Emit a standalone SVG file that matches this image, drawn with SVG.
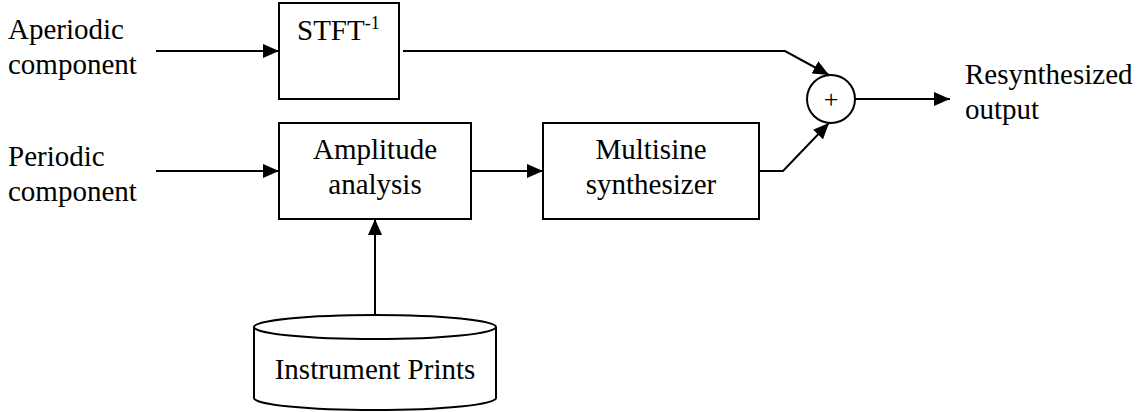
<svg xmlns="http://www.w3.org/2000/svg" width="1144" height="412" viewBox="0 0 1144 412">
  <style>
    .box { fill: #ffffff; stroke: #000000; stroke-width: 2; }
    .wire { fill: none; stroke: #000000; stroke-width: 2; }
    .mid { text-anchor: middle; }
  </style>
  <defs>
    <marker id="arrow" viewBox="0 0 16 14" refX="16" refY="7" markerWidth="16" markerHeight="14" markerUnits="userSpaceOnUse" orient="auto">
      <path d="M0,0 L16,7 L0,14 Z" fill="#000000"/>
    </marker>
  </defs>
  <rect width="1144" height="412" fill="#ffffff"/>

  <g font-family="Liberation Serif, serif" font-size="29" fill="#000000">
    <!-- input labels -->
    <g id="aperiodic-input">
      <text x="8" y="39">Aperiodic</text>
      <text x="8" y="74">component</text>
    </g>
    <g id="periodic-input">
      <text x="8" y="166">Periodic</text>
      <text x="8" y="201">component</text>
    </g>

    <!-- inverse STFT block -->
    <g id="istft">
      <rect class="box" x="279" y="3" width="120" height="96"/>
      <text x="297" y="40">STFT<tspan font-size="18" dy="-11">-1</tspan></text>
    </g>

    <!-- amplitude analysis block -->
    <g id="amplitude-analysis">
      <rect class="box" x="279" y="123" width="192" height="96"/>
      <text class="mid" x="375" y="159">Amplitude</text>
      <text class="mid" x="375" y="194">analysis</text>
    </g>

    <!-- multisine synthesizer block -->
    <g id="multisine-synthesizer">
      <rect class="box" x="543" y="123" width="216" height="96"/>
      <text class="mid" x="651" y="159">Multisine</text>
      <text class="mid" x="651" y="194">synthesizer</text>
    </g>

    <!-- summing junction -->
    <g id="sum">
      <circle cx="831" cy="99" r="24" fill="#ffffff" stroke="#000000" stroke-width="2"/>
      <text class="mid" x="831" y="108" font-size="26">+</text>
    </g>

    <!-- output label -->
    <g id="output">
      <text x="965" y="84">Resynthesized</text>
      <text x="965" y="119">output</text>
    </g>

    <!-- instrument prints database -->
    <g id="instrument-prints">
      <path class="box" d="M254,327 L254,398 A121,12 0 0 0 496,398 L496,327"/>
      <ellipse cx="375" cy="327" rx="121" ry="12" fill="#ffffff" stroke="#000000" stroke-width="2"/>
      <text class="mid" x="375" y="379">Instrument Prints</text>
    </g>
  </g>

  <!-- connectors -->
  <g id="connectors">
    <line class="wire" x1="156" y1="51" x2="279" y2="51" marker-end="url(#arrow)"/>
    <line class="wire" x1="156" y1="171" x2="279" y2="171" marker-end="url(#arrow)"/>
    <line class="wire" x1="471" y1="171" x2="543" y2="171" marker-end="url(#arrow)"/>
    <line class="wire" x1="375" y1="315" x2="375" y2="219" marker-end="url(#arrow)"/>
    <polyline class="wire" points="403,51 785,51 829,75" marker-end="url(#arrow)"/>
    <polyline class="wire" points="759,171 783,171 829,123" marker-end="url(#arrow)"/>
    <line class="wire" x1="855" y1="99" x2="950" y2="99" marker-end="url(#arrow)"/>
  </g>
</svg>
